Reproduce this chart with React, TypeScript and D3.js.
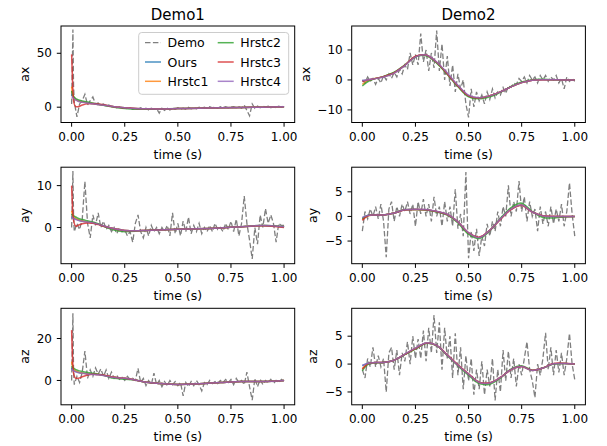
import React from 'react';
import * as d3 from 'd3';

// time grids
const timeDemo1 = [0, 0.003, 0.006, 0.009, ...d3.range(1, 81).map(i => i / 80)];
const timeDemo2 = d3.range(0, 81).map(i => i / 80);
const timeFit1 = [0, 0.005, 0.01, 0.02, 0.03, 0.05, 0.075, 0.1, 0.125, 0.15, 0.2, 0.25, 0.3, 0.35, 0.4, 0.5, 0.6, 0.7, 0.8, 0.9, 1.0];
const timeFit2 = [0, 0.025, ...d3.range(1, 21).map(i => i / 20)];

const xTicks = [0, 0.25, 0.5, 0.75, 1];
const seriesNames = ['Demo', 'Ours', 'Hrstc1', 'Hrstc2', 'Hrstc3', 'Hrstc4'];
const fitColors = ['#1f77b4', '#ff7f0e', '#2ca02c', '#d62728', '#9467bd'];

// Demo1 recordings
const demo1Ax = [3, 35, 72, 20,
  5, -9, 3, 6, 12, 2, 6, 9.5, 3, 4,
  2, 3, 1, 2, 0.5, 1, -0.5, 0.5, -1, -0.5,
  -1.5, -0.5, -2, -1, -1.5, -0.5, -2, -1, -2.5, -1,
  -2, -1.5, -5.5, -1, -3, -1, -2.5, -1, -2, -0.5,
  -2, -1, -2, 0, -1.5, -0.5, -1.5, 0, -1, 0,
  -1, 0.5, -0.5, 0, -1, 0.5, -0.5, 0.5, -0.5, 0,
  0.5, -0.5, 0.5, -1, 2, -3, -8, 3, -1, 1,
  -0.5, 1, 0, 1, -0.5, 0.5, -0.5, 1, 0, 1.5];
const demo1Ay = [0, 6, 13.5, 3,
  -1, 1, -0.5, 2, 11, 1, -2.5, 3, 0.5, 3.5,
  0, 1.5, -0.5, 0.5, -1, 0, -1.5, 0, -1, -0.5,
  -2, -1, -3.5, 1, 3, -1, -2.5, 0, -2, 0.5,
  -1, 0, -1.5, 0, -1, 0.5, -2, 3.5, -1.5, 1,
  -2, 1.5, -1, 2.5, -1.5, 0.5, -1, 1, -1.5, 0,
  -1, 0.5, -1, 1, -0.5, 0, -1, 1, -0.5, 1.5,
  -1, 2, -2, 1, 7.5, 1, -3, -7.5, 0, -4,
  3, 0, 4.5, 1, 3, 1, -3.5, 1, 0.5, 0.5];
const demo1Az = [0, 15, 32, 5,
  -2, 2, -1, 4, 14, 1, 5, 2, 6, 3,
  5.5, 2, 5, 1, 4, 1, 2.5, 0.5, 1.5, 0,
  2, 0.5, 1, 0, 5.8, -1, 1, -2.5, 0, -2,
  3.5, -2, 0, -3, -0.5, -2.5, 0, -2, -0.5, -2.5,
  -1, -7.4, -1, -3, -0.5, -2.5, 0, -2, -5, -1,
  -2, 0, -1.5, -0.5, -1.5, 0, -1, 0.5, -1, 0.5,
  -2, 1, -1, 0, -2, 4, -3, -9.4, 1, -3,
  0.5, -2, 0, -1, 0.5, -1.5, 0, -1, 0.5, -0.5];

// Demo2 recordings
const demo2Ax = [0, -1, 1, -0.5, 0.5, -1.5, 0.5, -1, 1.5, 0, 2,
  0.5, 2.5, 1, 3.5, 2, 5, 3.5, 9, 5, 8.5,
  5, 15.5, 6, 10, 3, 9, 4, 16.5, 3, 12,
  0, 8, -2, 5, -4, 2, -3, 0, -8, -12.5,
  -3, -9, -4, -7, -5, -8, -4, -6.5, -3, -6,
  -4, -5, -2.5, -4.5, -2, -2.5, -1, -1.5, 0.5, -0.5,
  1, -1, 1.5, 0, 1, -1, 1.5, 0, 1.5, -0.5,
  1, 0, 1.5, -1, 0.5, -3, 1, -0.5, 0.5, -0.5];
const demo2Ay = [-3, 1, -0.5, 1.5, 0, 2, -0.5, 2.5, -1, -8.3, 1.5,
  3, -1, 2, 0, 2.5, 1, 3, 0.5, 2.5, -2,
  3, 0.5, 3.5, 0, 2.5, -1, 4, 0, 2, -2,
  3, -1, 2, -2, 5.5, -2.5, 0.5, -4, 9, -8.5,
  -3, -7, -2.5, -8, -4, -6, -1.5, -4, -1, -3,
  1, -2, 2, 0, 6.3, 0, 3, 1, 7.2, 1,
  4, -1, 3, 0, 1.5, -3, 2, -1.5, 1, -2,
  2, -1.5, 1.5, -1, 2.5, -2, 1, 6.8, 0.5, -4];
const demo2Az = [-1, -2.5, 1, -0.5, 3, -0.5, 1.5, -0.5, 1, -5, 2,
  3, -1, 2.5, -2, 2, 0.5, 4, 0, 5, 1,
  4.5, 1, 6, 0.5, 6.5, 2, 8.8, 2, 7.5, -1,
  6.5, 1, 5, -2.5, 5.5, -2, 3, -4.5, 1.5, -3,
  1, -5.5, -1, -4.5, 0.5, -5.5, -1, -4, 1, -6.5,
  -1, -5, 2.5, -3, 2.3, -2.5, 1, -4, 0, -2,
  1, 4, -1, -3, -6, 0, -2, 1, 5.6, -1,
  3, -2, 2.5, -1.5, 2, -2, 1, 5.5, 0, -2.8];

// fitted trajectories: Ours, Hrstc1, Hrstc2, Hrstc3, Hrstc4
const fit1Ax = [
  [12, 10, 8.5, 7, 6, 5, 4, 3.2, 2.5, 1.8, 0.5, -0.5, -1.2, -1.5, -1.6, -1.3, -0.9, -0.5, -0.2, 0, 0.3],
  [19, 12, 9, 7, 6, 5, 4, 3.2, 2.5, 1.8, 0.5, -0.5, -1.2, -1.5, -1.6, -1.3, -0.9, -0.5, -0.2, 0, 0.3],
  [15, 12, 10, 8, 7, 5.8, 4.8, 3.8, 2.8, 1.8, 0, -1.2, -1.8, -1.9, -1.8, -1.3, -0.9, -0.5, -0.2, 0, 0.3],
  [49, 20, 5, 0.5, 0.5, 2, 3.2, 3.4, 3, 2.2, 0.3, -0.6, -1.2, -1.5, -1.6, -1.3, -0.9, -0.5, -0.2, 0, 0.3],
  [10, 9, 8, 6.5, 5.5, 4.5, 3.8, 3.2, 2.5, 1.8, 0.5, -0.5, -1.2, -1.5, -1.6, -1.3, -0.9, -0.5, -0.2, 0, 0.3],
];
const fit1Ay = [
  [2.6, 2.4, 2.2, 2.0, 1.8, 1.5, 1.3, 1.1, 0.8, 0.4, -0.3, -0.7, -0.8, -0.7, -0.6, -0.4, -0.3, -0.1, 0.2, 0.5, 0.2],
  [4, 3, 2.6, 2.2, 1.9, 1.6, 1.3, 1.1, 0.8, 0.4, -0.3, -0.7, -0.8, -0.7, -0.6, -0.4, -0.3, -0.1, 0.2, 0.5, 0.2],
  [3.3, 3, 2.8, 2.5, 2.2, 1.9, 1.6, 1.3, 0.9, 0.3, -0.6, -1.0, -0.9, -0.7, -0.6, -0.4, -0.3, -0.1, 0.2, 0.5, 0.2],
  [10, 4, 1.5, 0.3, 0.5, 0.9, 1.1, 1.0, 0.7, 0.3, -0.3, -0.7, -0.8, -0.7, -0.6, -0.4, -0.3, -0.1, 0.2, 0.4, 0.0],
  [2.4, 2.3, 2.1, 1.9, 1.7, 1.5, 1.3, 1.1, 0.8, 0.4, -0.3, -0.7, -0.8, -0.7, -0.6, -0.4, -0.3, -0.1, 0.2, 0.5, 0.2],
];
const fit1Az = [
  [6, 5.2, 4.7, 4.2, 3.9, 3.5, 3.2, 3, 2.8, 2.5, 1.5, 1, 0.2, -0.9, -1.3, -1.9, -1.6, -1, -0.5, -0.5, 0],
  [9, 6.5, 5.5, 4.6, 4.1, 3.6, 3.2, 3, 2.8, 2.5, 1.5, 1, 0.2, -0.9, -1.3, -1.9, -1.6, -1, -0.5, -0.5, 0],
  [7, 6.3, 5.8, 5.2, 4.8, 4.3, 3.8, 3.4, 3.0, 2.5, 1, 0.6, 0.2, -0.9, -1.3, -1.9, -1.6, -1, -0.5, -0.5, 0],
  [24, 9, 3, 1, 1, 1.8, 2.6, 3, 2.9, 2.6, 1.5, 1, 0.2, -0.9, -1.3, -1.9, -1.6, -1, -0.5, -0.5, 0],
  [5.5, 5, 4.6, 4.1, 3.8, 3.4, 3.1, 2.9, 2.7, 2.4, 1.4, 1, 0.2, -0.9, -1.3, -1.9, -1.6, -1, -0.5, -0.5, 0],
];
const fit2Ax = [
  [-0.3, 0, 0.3, 1.1, 2.4, 4.9, 7.8, 8.3, 5.8, 2.1, -2.0, -5.3, -6.0, -5.3, -4.0, -2.3, -0.9, -0.1, 0.1, 0.05, 0, 0],
  [-1.5, -0.3, 0.3, 1.1, 2.4, 4.9, 7.8, 8.3, 5.8, 2.1, -2.0, -5.3, -6.0, -5.3, -4.0, -2.3, -0.9, -0.1, 0.1, 0.05, 0, 0],
  [-2, -0.6, 0.2, 1.2, 2.6, 5.0, 7.7, 8.1, 5.6, 1.8, -2.3, -5.6, -6.3, -5.6, -4.1, -2.2, -0.7, 0.1, 0.2, 0.05, 0, 0],
  [-0.5, 0, 0.3, 1.1, 2.4, 4.9, 7.9, 8.3, 5.9, 2.0, -2.0, -5.3, -6.0, -5.3, -4.0, -2.3, -0.9, -0.1, 0.1, 0.05, 0, 0],
  [-0.2, 0, 0.3, 1.0, 2.3, 4.8, 7.7, 8.3, 6.0, 2.3, -1.8, -5.1, -5.9, -5.3, -4.0, -2.3, -0.9, -0.1, 0.1, 0.05, 0, 0],
];
const fit2Ay = [
  [-0.3, 0.2, 0.3, 0.3, 0.7, 1.35, 1.4, 1.35, 1.0, 0.4, -1.15, -3.4, -4.3, -2.8, -0.5, 1.5, 2.3, 0.9, 0.1, 0, 0, 0],
  [-0.6, 0.1, 0.3, 0.3, 0.7, 1.35, 1.4, 1.35, 1.0, 0.4, -1.15, -3.4, -4.3, -2.8, -0.5, 1.5, 2.3, 0.9, 0.1, 0, 0, 0],
  [-0.5, 0.2, 0.3, 0.3, 0.7, 1.35, 1.4, 1.3, 0.9, 0.3, -1.3, -3.6, -4.5, -2.9, -0.4, 1.8, 2.7, 1.0, -0.2, -0.3, -0.1, 0],
  [-0.8, 0.1, 0.3, 0.3, 0.7, 1.3, 1.4, 1.35, 1.0, 0.4, -1.1, -3.3, -4.2, -2.8, -0.6, 1.4, 2.2, 0.9, 0.15, 0.05, 0, 0],
  [-0.2, 0.2, 0.3, 0.3, 0.7, 1.35, 1.45, 1.4, 1.05, 0.45, -1.1, -3.3, -4.3, -2.8, -0.5, 1.5, 2.3, 0.9, 0.1, 0, 0, 0],
];
const fit2Az = [
  [-0.3, 0.1, 0.25, 0.3, 0.7, 1.75, 2.8, 3.75, 3.3, 1.6, -0.2, -1.8, -3.3, -3.4, -2.4, -1.0, -0.45, -1.15, -0.7, 0.05, 0.1, 0],
  [-0.8, 0.0, 0.25, 0.3, 0.7, 1.75, 2.8, 3.75, 3.3, 1.6, -0.2, -1.8, -3.3, -3.4, -2.4, -1.0, -0.45, -1.15, -0.7, 0.05, 0.1, 0],
  [-1.2, -0.1, 0.2, 0.3, 0.7, 1.7, 2.7, 3.7, 3.3, 1.5, -0.3, -2.0, -3.5, -3.6, -2.5, -0.9, -0.3, -1.1, -0.7, 0.0, 0.1, 0],
  [-0.9, 0.05, 0.25, 0.3, 0.7, 1.75, 2.8, 3.75, 3.35, 1.65, -0.15, -1.75, -3.25, -3.35, -2.4, -1.0, -0.45, -1.1, -0.7, 0.1, 0.15, 0],
  [-0.2, 0.1, 0.25, 0.3, 0.7, 1.8, 2.85, 3.8, 3.35, 1.6, -0.2, -1.8, -3.3, -3.4, -2.4, -1.0, -0.45, -1.15, -0.7, 0.05, 0.1, 0],
];

const panels = [
  { row: 0, col: 0, title: 'Demo1', ylabel: 'ax', dt: timeDemo1, demo: demo1Ax, ft: timeFit1, fits: fit1Ax, domain: [-14.2, 75.3], ticks: [0, 50], legend: true },
  { row: 0, col: 1, title: 'Demo2', ylabel: 'ax', dt: timeDemo2, demo: demo2Ax, ft: timeFit2, fits: fit2Ax, domain: [-14.2, 18.0], ticks: [-10, 0, 10] },
  { row: 1, col: 0, ylabel: 'ay', dt: timeDemo1, demo: demo1Ay, ft: timeFit1, fits: fit1Ay, domain: [-8.65, 14.4], ticks: [0, 10] },
  { row: 1, col: 1, ylabel: 'ay', dt: timeDemo2, demo: demo2Ay, ft: timeFit2, fits: fit2Ay, domain: [-9.6, 10.0], ticks: [-5, 0, 5] },
  { row: 2, col: 0, ylabel: 'az', dt: timeDemo1, demo: demo1Az, ft: timeFit1, fits: fit1Az, domain: [-11.6, 34.4], ticks: [0, 20] },
  { row: 2, col: 1, ylabel: 'az', dt: timeDemo2, demo: demo2Az, ft: timeFit2, fits: fit2Az, domain: [-7.3, 10.0], ticks: [-5, 0, 5] },
];

const colX = [61, 351.7];
const rowY = [26, 167.2, 308.3];
const plotW = 233.7;
const plotH = 96.5;
const font = 'DejaVu Sans, sans-serif';

const fmtY = (v: number) => (v < 0 ? '\u2212' + Math.abs(v) : String(v));
const labelWidth = (s: string) => s.split('').reduce((w, ch) => w + (ch === '\u2212' ? 10.06 : 7.63), 0);

const Panel = ({ p, idx }: { p: any; idx: number }) => {
  const x0 = colX[p.col];
  const y0 = rowY[p.row];
  const x = d3.scaleLinear().domain([-0.05, 1.05]).range([0, plotW]);
  const y = d3.scaleLinear().domain(p.domain).range([plotH, 0]);
  const demoLine = d3.line<number>().x((_, i) => x(p.dt[i])).y(d => y(d));
  const fitLine = d3.line<number>()
    .x((_, i) => x(p.ft[i]))
    .y(d => y(d))
    .curve(p.col === 0 ? d3.curveMonotoneX : d3.curveCatmullRom.alpha(0.5));
  const maxW = d3.max(p.ticks.map((t: number) => labelWidth(fmtY(t)))) as number;
  const clipId = `clip${idx}`;
  return (
    <g transform={`translate(${x0},${y0})`} fontFamily={font}>
      <defs>
        <clipPath id={clipId}><rect width={plotW} height={plotH} /></clipPath>
      </defs>
      <g clipPath={`url(#${clipId})`}>
        <path d={demoLine(p.demo) || ''} fill="none" stroke="#7f7f7f" strokeWidth={1.3} strokeDasharray="5.5,2.4" />
        {p.fits.map((f: number[], k: number) => (
          <path key={k} d={fitLine(f) || ''} fill="none" stroke={fitColors[k]} strokeOpacity={0.8} strokeWidth={1.5} />
        ))}
      </g>
      <rect width={plotW} height={plotH} fill="none" stroke="#000" strokeWidth={1} />
      {xTicks.map(t => (
        <g key={t} transform={`translate(${x(t)},${plotH})`}>
          <line y2={4.2} stroke="#000" strokeWidth={1} />
          <text y={18.5} textAnchor="middle" fontSize={12}>{d3.format('.2f')(t)}</text>
        </g>
      ))}
      {p.ticks.map((t: number) => (
        <g key={t} transform={`translate(0,${y(t)})`}>
          <line x2={-4.2} stroke="#000" strokeWidth={1} />
          <text x={-9} dy="0.35em" textAnchor="end" fontSize={12}>{fmtY(t)}</text>
        </g>
      ))}
      <text x={plotW / 2} y={plotH + 36} textAnchor="middle" fontSize={12.5}>time (s)</text>
      <text transform={`translate(${-9 - maxW - 7.8},${plotH / 2}) rotate(-90)`} textAnchor="middle" fontSize={12.5}>{p.ylabel}</text>
      {p.title && <text x={plotW / 2} y={-6} textAnchor="middle" fontSize={15}>{p.title}</text>}
      {p.legend && <Legend />}
    </g>
  );
};

const Legend = () => {
  const boxX = 77.7;
  const boxY = 6.5;
  const rowsY = [16.7, 36, 55.3];
  const cols = [[0, 1, 2], [3, 4, 5]];
  const colOff = [0, 72.7];
  return (
    <g>
      <rect x={boxX} y={boxY} width={150} height={61.8} rx={3} fill="#fff" fillOpacity={0.8} stroke="#cccccc" strokeWidth={1} />
      {cols.map((c, ci) => c.map((si, ri) => {
        const hx = boxX + 6.3 + colOff[ci];
        const cy = rowsY[ri];
        return (
          <g key={si}>
            {si === 0
              ? <line x1={hx} x2={hx + 16} y1={cy} y2={cy} stroke="#7f7f7f" strokeWidth={1.3} strokeDasharray="5.5,2.4" />
              : <line x1={hx} x2={hx + 16} y1={cy} y2={cy} stroke={fitColors[si - 1]} strokeOpacity={0.8} strokeWidth={1.5} />}
            <text x={hx + 22.6} y={cy} dy="0.36em" fontSize={12.5}>{seriesNames[si]}</text>
          </g>
        );
      }))}
    </g>
  );
};

export default function App() {
  return (
    <div style={{ position: 'absolute', left: 0, top: 0 }}>
      <svg width={607} height={446} style={{ display: 'block', background: '#fff' }}>
        {panels.map((p, i) => <Panel key={i} p={p} idx={i} />)}
      </svg>
    </div>
  );
}
